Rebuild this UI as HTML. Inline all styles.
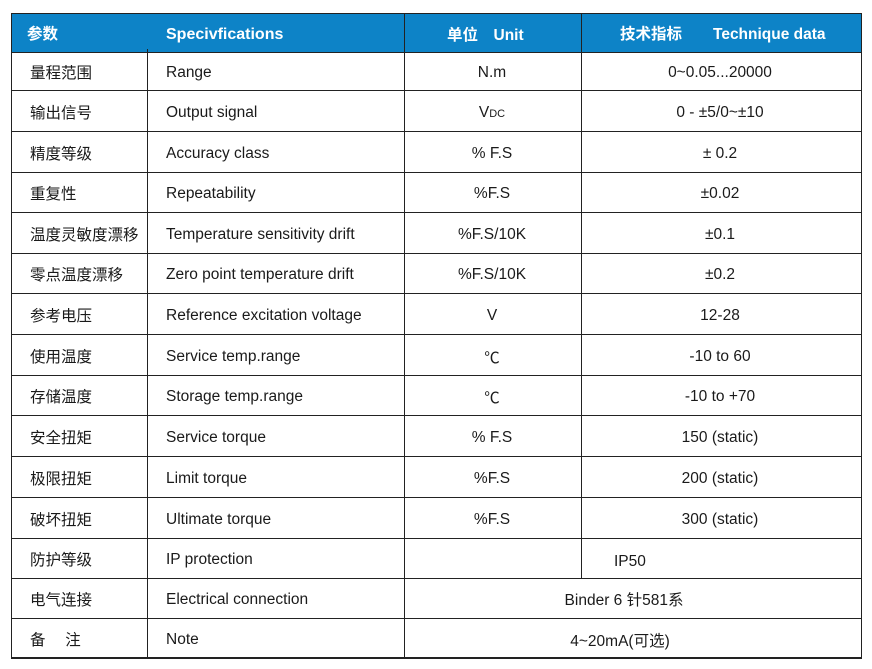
<!DOCTYPE html>
<html><head><meta charset="utf-8"><style>
body{margin:0;width:872px;height:669px;background:#fff;position:relative;font-family:"Liberation Sans","Noto Sans CJK SC",sans-serif;color:#1a1a1a;overflow:hidden}
.h{position:absolute;left:11px;top:13px;width:851px;height:39px;background:#0d83c7}
.l{position:absolute;background:#222}
.t{position:absolute;font-size:15.5px;white-space:nowrap;transform:translateY(-50%)}
.w{color:#fff;font-weight:bold}
.c{transform:translate(-50%,-50%)}
</style></head><body>
<div class="h"></div>
<div id="g"></div>
<script>
var rows=[52,90,131,172,212,253,293,334,375,415,456,497,538,578,618,657];
var g='';
g+='<div class="l" style="left:11px;top:13px;width:851px;height:1px"></div>';
rows.forEach(function(y,i){g+='<div class="l" style="left:11px;top:'+y+'px;width:851px;height:'+(i==rows.length-1?2:1)+'px"></div>';});
g+='<div class="l" style="left:11px;top:13px;width:1px;height:646px"></div>';
g+='<div class="l" style="left:861px;top:13px;width:1px;height:646px"></div>';
g+='<div class="l" style="left:147px;top:49px;width:1px;height:610px"></div>';
g+='<div class="l" style="left:404px;top:13px;width:1px;height:646px"></div>';
g+='<div class="l" style="left:581px;top:13px;width:1px;height:565px"></div>';
var d=[["量程范围","Range","N.m","0~0.05...20000"],["输出信号","Output signal","V<span style='font-size:11px'>DC</span>","0 - ±5/0~±10"],["精度等级","Accuracy class","% F.S","± 0.2"],["重复性","Repeatability","%F.S","±0.02"],["温度灵敏度漂移","Temperature sensitivity drift","%F.S/10K","±0.1"],["零点温度漂移","Zero point temperature drift","%F.S/10K","±0.2"],["参考电压","Reference excitation voltage","V","12-28"],["使用温度","Service temp.range","℃","-10 to 60"],["存储温度","Storage temp.range","℃","-10 to +70"],["安全扭矩","Service torque","% F.S","150 (static)"],["极限扭矩","Limit torque","%F.S","200 (static)"],["破坏扭矩","Ultimate torque","%F.S","300 (static)"],["防护等级","IP protection","",""],["电气连接","Electrical connection","",""],["备　 注","Note","",""]];
d.forEach(function(r,i){var y=(rows[i]+rows[i+1])/2+2;
g+='<div class="t" style="left:30px;top:'+(y-1)+'px">'+r[0]+'</div>';
g+='<div class="t" style="left:166px;top:'+y+'px">'+r[1]+'</div>';
if(r[2])g+='<div class="t c" style="left:492px;top:'+y+'px">'+r[2]+'</div>';
if(r[3])g+='<div class="t c" style="left:720px;top:'+y+'px">'+r[3]+'</div>';});
g+='<div class="t" style="left:614px;top:562px">IP50</div>';
g+='<div class="t c" style="left:624px;top:599px">Binder 6 针581系</div>';
g+='<div class="t c" style="left:620px;top:640px">4~20mA(可选)</div>';
g+='<div class="t w" style="left:27px;top:33px">参数</div>';
g+='<div class="t w" style="left:166px;top:35px;font-size:16px">Specivfications</div>';
g+='<div class="t w" style="left:447px;top:34px">单位　Unit</div>';
g+='<div class="t w" style="left:620px;top:33px">技术指标　　Technique data</div>';
document.getElementById('g').innerHTML=g;
</script>
</body></html>
